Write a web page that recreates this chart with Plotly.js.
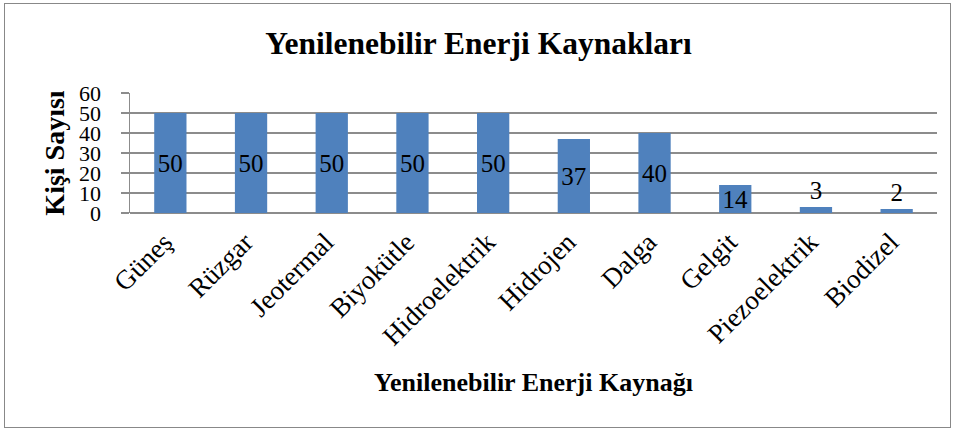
<!DOCTYPE html>
<html><head><meta charset="utf-8">
<script src="https://cdn.plot.ly/plotly-3.0.1.min.js"></script>
<style>html,body{margin:0;padding:0;background:#fff}#frame{position:absolute;left:4px;top:3px;width:945px;height:423px;border:1.5px solid #888;pointer-events:none}</style>
</head><body>
<div id="chart" style="width:957px;height:432px"></div>
<div id="frame"></div>
<script>
const categories = ["Güneş","Rüzgar","Jeotermal","Biyokütle","Hidroelektrik","Hidrojen","Dalga","Gelgit","Piezoelektrik","Biodizel"];
const values = [50,50,50,50,50,37,40,14,3,2];
const yTicks = [0,10,20,30,40,50,60];

const SERIF = '"Liberation Serif", "Times New Roman", serif';
const positions = values.map(v => v >= 10 ? 'inside' : 'outside');
const labelFont = {family: SERIF, size: 25, color: '#000'};

const trace = {
  type: 'bar', x: categories, y: values,
  marker: {color: '#4F81BD'},
  text: values.map(String), textposition: positions, textangle: 0,
  insidetextanchor: 'middle', constraintext: 'none',
  textfont: labelFont, insidetextfont: labelFont, outsidetextfont: labelFont,
  cliponaxis: false, hoverinfo: 'none'
};
const layout = {
  width: 957, height: 432,
  margin: {l: 130, r: 20, t: 93, b: 219},
  paper_bgcolor: '#fff', plot_bgcolor: '#fff',
  bargap: 0.6, showlegend: false,
  title: {text: '<b>Yenilenebilir Enerji Kaynakları</b>', x: 0.5, xref: 'container', y: 0.9, yref: 'container', yanchor: 'middle',
    font: {family: SERIF, size: 31.5, color: '#000'}},
  xaxis: {
    tickangle: -45, tickfont: {family: SERIF, size: 27, color: '#000'},
    showgrid: false, ticks: '', showline: false, zeroline: false, ticklabelstandoff: 7, ticklabelshift: -6,
    title: {text: '<b>Yenilenebilir Enerji Kaynağı</b>', font: {family: SERIF, size: 26, color: '#000'}, standoff: 22}
  },
  yaxis: {
    range: [0, 60], tickvals: yTicks, ticktext: yTicks.map(String),
    tickfont: {family: SERIF, size: 22, color: '#000'},
    showgrid: true, gridcolor: '#8c8c8c', gridwidth: 1.5,
    zeroline: true, zerolinecolor: '#8c8c8c', zerolinewidth: 1.5,
    showline: true, linecolor: '#8c8c8c', linewidth: 1.5,
    ticks: 'outside', ticklen: 8, tickcolor: '#8c8c8c', tickwidth: 1.5, ticklabelstandoff: 15,
    title: {text: '<b>Kişi Sayısı</b>', font: {family: SERIF, size: 28, color: '#000'}, standoff: 6}
  }
};
Plotly.newPlot('chart', [trace], layout, {displayModeBar: false, staticPlot: true});
</script>
</body></html>
